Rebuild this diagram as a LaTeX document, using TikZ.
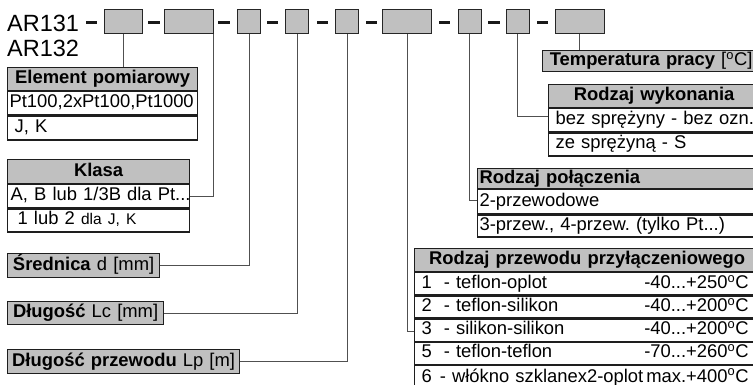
\documentclass[tikz,border=0pt]{standalone}
\usepackage{fontspec}
\setmainfont{Liberation Sans}
\definecolor{hdrgray}{RGB}{192,192,192}
\definecolor{bordc}{RGB}{30,30,30}
\definecolor{conc}{RGB}{80,80,80}
\newcommand{\tabfont}{\fontsize{18.4}{22}\selectfont\frenchspacing}
\newcommand{\smallfnt}{\fontsize{15.5}{18}\selectfont}
\newcommand{\degC}{\textsuperscript{o}C}
\begin{document}
\begin{tikzpicture}[x=1pt,y=-1pt,
  cell/.style={draw=bordc, line width=1.2pt, rectangle, inner xsep=2pt, inner ysep=0pt,
    anchor=north west, text height=12.5pt, text depth=3.5pt, font=\tabfont},
  hdr/.style={cell, fill=hdrgray, font=\tabfont\bfseries},
  rowc/.style={cell, fill=white, align=left},
  topbox/.style={draw=black!85, line width=1pt, fill=hdrgray, anchor=north west,
    minimum height=24pt, inner sep=0pt},
  bar/.style={line width=3.2pt, black!90},
  conn/.style={draw=conc, line width=1pt}]
\useasboundingbox (0,0) rectangle (753,385);

% model code
\node[anchor=base west, inner sep=0pt, font=\fontsize{23.5}{28}\selectfont] (ar1) at (7,32) {AR131};
\node[anchor=base west, inner sep=0pt, font=\fontsize{23.5}{28}\selectfont] (ar2) at (7,57) {AR132};

% top boxes
\node[topbox, minimum width=38pt] (b1) at (104,9) {};
\node[topbox, minimum width=49pt] (b2) at (164,9) {};
\node[topbox, minimum width=23pt] (b3) at (237,9) {};
\node[topbox, minimum width=23pt] (b4) at (285,9) {};
\node[topbox, minimum width=23pt] (b5) at (335,9) {};
\node[topbox, minimum width=49pt] (b6) at (382,9) {};
\node[topbox, minimum width=23pt] (b7) at (457.5,9) {};
\node[topbox, minimum width=23pt] (b8) at (505.5,9) {};
\node[topbox, minimum width=49pt] (b9) at (554.5,9) {};

% dashes
\foreach \a/\b in {86/97,148/160,218/230,267/278,317/328,366/377,439/450,488/500,537/548}
  \draw[bar] (\a,22.5) -- (\b,22.5);

% Element pomiarowy
\node[hdr, minimum width=190pt, text width=186pt, align=center, minimum height=23pt] (ep) at (7,67) {Element pomiarowy};
\node[rowc, minimum width=190pt, text width=186pt, minimum height=23pt] (ep1) at (ep.south west) {\makebox[\linewidth][l]{Pt100,2xPt100,Pt1000}};
\node[rowc, minimum width=190pt, text width=186pt, minimum height=24pt] (ep2) at (ep1.south west) {\hspace*{5pt}J, K};

% Klasa
\node[hdr, minimum width=182pt, text width=178pt, align=center, minimum height=24pt] (kl) at (7,159) {Klasa};
\node[rowc, minimum width=182pt, text width=178pt, minimum height=23pt] (kl1) at (kl.south west) {\makebox[\linewidth][l]{\hspace*{1pt}A, B lub 1/3B dla Pt...}};
\node[rowc, minimum width=182pt, text width=178pt, minimum height=23pt] (kl2) at (kl1.south west) {\hspace*{8pt}1 lub 2 {\smallfnt dla J, K}};

% single boxes
\node[cell, fill=hdrgray, minimum width=152pt, text width=148pt, align=center, minimum height=24pt] (sr) at (7,253) {\textbf{Średnica} d [mm]};
\node[cell, fill=hdrgray, minimum width=156pt, text width=152pt, align=center, minimum height=23pt] (lc) at (7,301) {\textbf{Długość} Lc [mm]};
\node[cell, fill=hdrgray, minimum width=232pt, text width=228pt, align=center, minimum height=24pt] (lp) at (7,349) {\textbf{Długość przewodu} Lp [m]};

% Temperatura pracy
\node[cell, fill=hdrgray, minimum width=217pt, text width=213pt, align=center, minimum height=21pt] (tp) at (542,50) {\textbf{Temperatura pracy} [\degC]};

% Rodzaj wykonania
\node[hdr, minimum width=211pt, text width=207pt, align=center, minimum height=23pt] (rw) at (548,84) {Rodzaj wykonania};
\node[rowc, minimum width=211pt, text width=207pt, minimum height=23pt] (rw1) at (rw.south west) {\hspace*{5pt}bez sprężyny - bez ozn.};
\node[rowc, minimum width=211pt, text width=207pt, minimum height=23pt] (rw2) at (rw1.south west) {\hspace*{5pt}ze sprężyną - S};

% Rodzaj polaczenia
\node[hdr, minimum width=282pt, text width=278pt, align=left, minimum height=20pt] (rp) at (477,168) {Rodzaj połączenia};
\node[rowc, minimum width=282pt, text width=278pt, minimum height=24pt] (rp1) at (rp.south west) {2-przewodowe};
\node[rowc, minimum width=282pt, text width=278pt, minimum height=22pt] (rp2) at (rp1.south west) {3-przew., 4-przew. (tylko Pt...)};

% Rodzaj przewodu przylaczeniowego
\node[hdr, minimum width=345pt, text width=341pt, align=center, minimum height=23pt] (rpp) at (414,248) {Rodzaj przewodu przyłączeniowego};
\node[rowc, minimum width=345pt, text width=341pt, minimum height=22pt] (rpp1) at (rpp.south west)
  {\makebox[\linewidth][l]{\hspace*{5pt}1\hspace*{12pt}- teflon-oplot\hfill -40...+250\degC\hspace*{9pt}}};
\node[rowc, minimum width=345pt, text width=341pt, minimum height=22pt] (rpp2) at (rpp1.south west)
  {\makebox[\linewidth][l]{\hspace*{5pt}2\hspace*{12pt}- teflon-silikon\hfill -40...+200\degC\hspace*{9pt}}};
\node[rowc, minimum width=345pt, text width=341pt, minimum height=22pt] (rpp3) at (rpp2.south west)
  {\makebox[\linewidth][l]{\hspace*{5pt}3\hspace*{12pt}- silikon-silikon\hfill -40...+200\degC\hspace*{9pt}}};
\node[rowc, minimum width=345pt, text width=341pt, minimum height=22pt] (rpp4) at (rpp3.south west)
  {\makebox[\linewidth][l]{\hspace*{5pt}5\hspace*{12pt}- teflon-teflon\hfill -70...+260\degC\hspace*{9pt}}};
\node[rowc, minimum width=345pt, text width=341pt, minimum height=24pt] (rpp5) at (rpp4.south west)
  {\makebox[\linewidth][l]{\hspace*{5pt}6\hspace*{8pt}- włókno szklanex2-oplot\hfill max.+400\degC\hspace*{9pt}}};

% connectors
\coordinate (c2) at ([xshift=-0.8pt]b2.south east);
\draw[conn] (b1.south) -- (b1.south |- ep.north);
\draw[conn] (c2) |- (kl1.east);
\draw[conn] (b3.south) |- (sr.east);
\draw[conn] (b4.south) |- (lc.east);
\draw[conn] (b5.south) |- (lp.east);
\draw[conn] (b6.south) |- ([yshift=-1.5pt]rpp3.west);
\draw[conn] (b7.south) |- ([yshift=1.5pt]rp1.west);
\draw[conn] (b8.south) |- ([yshift=3.5pt]rw1.west);
\draw[conn] (b9.south) -- (b9.south |- tp.north);
\end{tikzpicture}
\end{document}
